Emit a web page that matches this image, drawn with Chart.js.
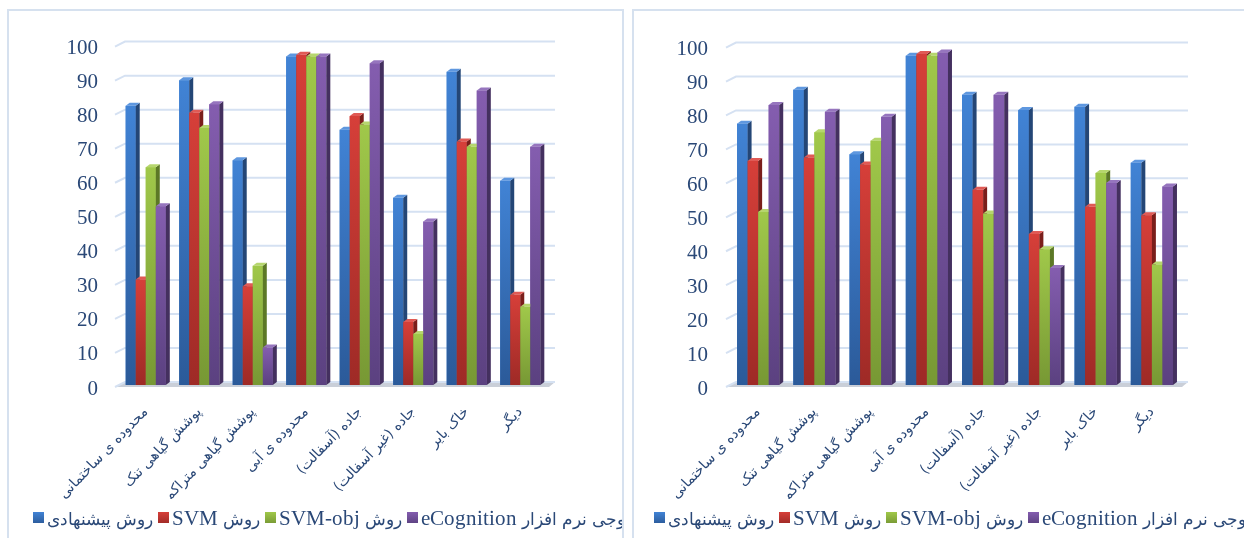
<!DOCTYPE html>
<html>
<head>
<meta charset="utf-8">
<script src="https://cdn.jsdelivr.net/npm/chart.js@4"></script>
<style>
  @font-face {
    font-family: 'FaMix';
    src: local('DejaVu Sans'), local('DejaVuSans');
    unicode-range: U+0600-06FF, U+200C-200F, U+FB50-FDFF, U+FE70-FEFF;
    size-adjust: 82%;
  }
  @font-face {
    font-family: 'FaMix';
    src: local('Liberation Serif'), local('LiberationSerif');
    unicode-range: U+0000-00FF;
  }
  html, body { margin: 0; padding: 0; background: #fff; width: 1244px; height: 538px; overflow: hidden; }
  .panel { position: absolute; top: 9px; border: 2px solid #D6E1EF; overflow: hidden; background: #fff; }
  #p1 { left: 7px; width: 613px; height: 540px; }
  #p2 { left: 632px; width: 620px; height: 540px; }
  canvas { position: absolute; left: 0; top: 0; direction: rtl; }
</style>
</head>
<body>
<div class="panel" id="p1"><canvas id="left" width="800" height="532"></canvas></div>
<div class="panel" id="p2"><canvas id="right" width="800" height="532"></canvas></div>
<script>
// land cover classes
const categories = [
  "محدوده ی ساختمانی",
  "پوشش گیاهی تنک",
  "پوشش گیاهی متراکم",
  "محدوده ی آبی",
  "جاده (آسفالت)",
  "جاده (غیر آسفالت)",
  "خاک بایر",
  "دیگر"
];
const seriesNames = ["روش پیشنهادی", "روش SVM", "روش SVM-obj", "خروجی نرم افزار eCognition"];

// left chart
const proposedL = [82, 89.5, 66, 96.5, 75, 55, 92, 60];
const svmL      = [31, 80, 29, 97, 79, 18.5, 71.5, 26.5];
const svmObjL   = [64, 75.5, 35, 96.5, 76.5, 15, 70, 23];
const ecogL     = [52.5, 82.5, 11, 96.5, 94.5, 48, 86.5, 70];

// right chart
const proposedR = [77, 87, 68, 97, 85.5, 81, 82, 65.5];
const svmR      = [66, 67, 65, 97.5, 57.5, 44.5, 52.5, 50];
const svmObjR   = [51, 74.5, 72, 97, 50.5, 40, 62.5, 35.5];
const ecogR     = [82.5, 80.5, 79, 98, 85.5, 34.5, 59.5, 58.5];

const yMin = 0, yMax = 100, yStep = 10;

const palette = [
  { top: '#4183D5', bottom: '#2B5A99', side: '#244676', cap: '#5E97DF' },
  { top: '#D63F39', bottom: '#9E2A26', side: '#7A1E1B', cap: '#E05A55' },
  { top: '#A0C84A', bottom: '#779834', side: '#5C7826', cap: '#B6D66E' },
  { top: '#845DAF', bottom: '#5B4180', side: '#44305F', cap: '#9675BE' }
];
const textColor = '#2A4877';
const gridColor = '#D5E1F2';
const DX = 4, DY = 3;

function vGrad(ctx, c, y0, y1) {
  const g = ctx.createLinearGradient(0, y0, 0, y1);
  g.addColorStop(0, c.top);
  g.addColorStop(1, c.bottom);
  return g;
}

const bars3d = {
  id: 'bars3d',
  beforeDatasetsDraw(chart) {
    const { ctx, chartArea: a, scales: { y } } = chart;
    ctx.save();
    // floor
    ctx.fillStyle = '#CACFD8';
    ctx.beginPath();
    ctx.moveTo(a.left - 4, a.bottom + 2);
    ctx.lineTo(a.right + 2, a.bottom + 2);
    ctx.lineTo(a.right + 8, a.bottom - 3);
    ctx.lineTo(a.left + 6, a.bottom - 3);
    ctx.closePath();
    ctx.fill();
    // back wall grid lines
    ctx.strokeStyle = gridColor;
    ctx.lineWidth = 2;
    y.ticks.forEach(t => {
      const yb = y.getPixelForValue(t.value) - DY;
      ctx.beginPath();
      ctx.moveTo(a.left - 4, yb + 5);
      ctx.lineTo(a.left + 6, yb);
      ctx.lineTo(a.right + 8, yb);
      ctx.stroke();
    });
    ctx.restore();
  },
  afterDatasetsDraw(chart) {
    const ctx = chart.ctx;
    const n = chart.data.labels.length;
    ctx.save();
    for (let i = 0; i < n; i++) {
      chart.data.datasets.forEach((ds, k) => {
        const el = chart.getDatasetMeta(k).data[i];
        if (!el) return;
        const { x, y, base, width } = el.getProps(['x', 'y', 'base', 'width'], true);
        const c = palette[k];
        const l = x - width / 2, r = x + width / 2;
        ctx.fillStyle = vGrad(ctx, c, y, base);
        ctx.fillRect(l, y, width, base - y);
        ctx.fillStyle = c.side;
        ctx.beginPath();
        ctx.moveTo(r, y); ctx.lineTo(r + DX, y - DY); ctx.lineTo(r + DX, base - DY); ctx.lineTo(r, base);
        ctx.closePath(); ctx.fill();
        ctx.fillStyle = c.cap;
        ctx.beginPath();
        ctx.moveTo(l, y); ctx.lineTo(l + DX, y - DY); ctx.lineTo(r + DX, y - DY); ctx.lineTo(r, y);
        ctx.closePath(); ctx.fill();
      });
    }
    ctx.restore();
  }
};

// legend row: box, small gap, right-to-left text
const legendRow = {
  id: 'legendRow',
  afterDraw(chart, args, opts) {
    const ctx = chart.ctx;
    ctx.save();
    ctx.font = "21px FaMix, 'Liberation Serif', 'DejaVu Sans', serif";
    ctx.direction = 'rtl';
    ctx.textAlign = 'left';
    ctx.textBaseline = 'middle';
    let x = opts.x;
    const y = opts.y;
    chart.data.datasets.forEach((ds, k) => {
      ctx.fillStyle = vGrad(ctx, palette[k], y - 6, y + 6);
      ctx.fillRect(x, y - 6, 11, 11);
      x += 14;
      ctx.fillStyle = textColor;
      ctx.fillText(ds.label, x, y + 1);
      x += ctx.measureText(ds.label).width + 5;
    });
    ctx.restore();
  }
};

function makeChart(id, series, g) {
  const H = 532, W = 800, legendH = 44;
  return new Chart(document.getElementById(id), {
    type: 'bar',
    data: {
      labels: categories,
      datasets: series.map((vals, k) => ({
        label: seriesNames[k],
        data: vals,
        backgroundColor: palette[k].top,
        borderWidth: 0,
        categoryPercentage: 0.75,
        barPercentage: 1
      }))
    },
    options: {
      responsive: false,
      animation: false,
      layout: { padding: { top: g.top, left: 0, right: 0, bottom: legendH } },
      plugins: {
        tooltip: { enabled: false },
        legend: { display: false },
        legendRow: { x: g.legendX, y: 507 }
      },
      scales: {
        x: {
          grid: { display: false, drawTicks: false },
          border: { display: false },
          ticks: {
            autoSkip: false, minRotation: 46, maxRotation: 46, padding: 19,
            color: textColor,
            font: { family: "'DejaVu Sans'", size: 14 }
          },
          afterFit: s => { s.height = H - legendH - g.bottom; }
        },
        y: {
          min: yMin, max: yMax,
          grid: { display: false, drawTicks: false },
          border: { display: false },
          ticks: {
            stepSize: yStep, padding: g.yPad, labelOffset: 4,
            color: textColor,
            font: { family: "'Liberation Serif', serif", size: 21 }
          },
          afterFit: s => { s.width = g.left; }
        },
        yR: {
          position: 'right',
          grid: { display: false, drawTicks: false },
          border: { display: false },
          ticks: { display: false },
          afterFit: s => { s.width = W - g.right; }
        }
      }
    },
    plugins: [bars3d, legendRow]
  });
}

function build() {
  makeChart('left', [proposedL, svmL, svmObjL, ecogL],
    { left: 110, right: 538, top: 32, bottom: 374, legendX: 24, yPad: 21 });
  makeChart('right', [proposedR, svmR, svmObjR, ecogR],
    { left: 96, right: 546, top: 32, bottom: 374, legendX: 20, yPad: 22 });
}

document.fonts.load("21px FaMix", "روش SVM 0123").catch(() => {}).finally(build);
</script>
</body>
</html>
